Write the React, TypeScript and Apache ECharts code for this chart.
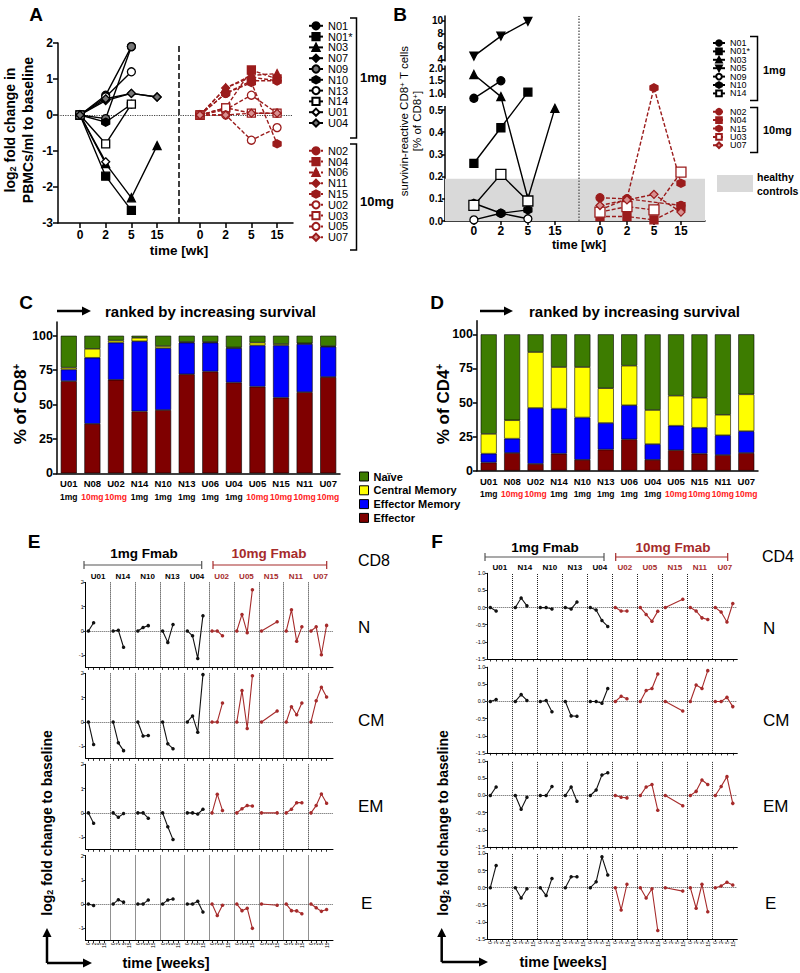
import React, { useEffect, useRef } from 'react';
import * as echarts from 'echarts';

const FONT = '"Liberation Sans", Arial, Helvetica, sans-serif';
const RED = '#9b1c1c';
const RED_EF = '#a62b2b';
const RED_DOSE = '#ff2020';

// ---------------- Panel A ----------------
const weekLabels = ['0', '2', '5', '15'];
const aIds1 = ['N01', 'N01*', 'N03', 'N07', 'N09', 'N10', 'N13', 'N14', 'U01', 'U04'];
const aVals1 = [
  [0, 0.55, 1.9, null],
  [0, -1.7, -2.65, null],
  [0, -1.35, -2.3, -0.85],
  [0, 0.4, 0.6, 0.5],
  [0, -0.1, 1.9, null],
  [0, -0.2, 0.3, null],
  [0, 0.5, 1.2, null],
  [0, -0.8, 0.3, null],
  [0, -1.3, null, null],
  [0, 0.45, 0.6, 0.5],
];
const aIds10 = ['N02', 'N04', 'N06', 'N11', 'N15', 'U02', 'U03', 'U05', 'U07'];
const aVals10 = [
  [0, 0.6, 0.95, 0.95],
  [0, 0.2, 1.25, 1.0],
  [0, 0.75, 1.1, 1.15],
  [0, 0.75, 1.05, 0.95],
  [0, 0.6, 0.9, -0.8],
  [0, 0.15, 0.55, 0.05],
  [0, 0.2, 0.05, 0.05],
  [0, 0.0, -0.7, -0.35],
  [0, 0.0, 0.05, 0.05],
];

// ---------------- Panel B ----------------
const bIds1 = ['N01', 'N01*', 'N03', 'N05', 'N09', 'N10', 'N14'];
const bVals1 = [
  [0.85, 1.5, null, null],
  [0.26, 0.42, 1.05, null],
  [1.75, 0.9, 0.1, 0.55],
  [4.5, 7.6, 9.9, null],
  [0.005, 0.035, 0.01, null],
  [0.08, 0.035, 0.05, null],
  [0.07, 0.21, 0.09, null],
];
const bIds10 = ['N02', 'N04', 'N15', 'U03', 'U07'];
const bVals10 = [
  [0.105, 0.1, null, 0.07],
  [0.02, 0.02, 0.005, 0.065],
  [0.05, 0.1, 1.22, 0.17],
  [0.04, 0.065, 0.05, 0.22],
  [0.07, 0.095, 0.12, 0.04],
];
const bTicks = [0, 0.1, 0.2, 0.3, 0.4, 0.5, 1.0, 1.5, 2.0, 4, 6, 8, 10];
const bTickLabels = ['0.0', '0.1', '0.2', '0.3', '0.4', '0.5', '1.0', '1.5', '2.0', '4', '6', '8', '10'];
const healthyMax = 0.19;

// ---------------- Panels C / D ----------------
const cdCats = ['U01', 'N08', 'U02', 'N14', 'N10', 'N13', 'U06', 'U04', 'U05', 'N15', 'N11', 'U07'];
const cdDose = ['1mg', '10mg', '10mg', '1mg', '1mg', '1mg', '1mg', '1mg', '10mg', '10mg', '10mg', '10mg'];
const cEffector = [67, 36, 68, 45, 46, 72, 74, 66, 63, 55, 59, 70];
const cEffMem = [8.5, 48, 27, 51, 45, 23, 21, 25, 30, 38, 35, 22];
const cCentral = [1.3, 6.5, 1.5, 2.5, 1.5, 0.5, 0.5, 0.5, 2, 1, 0.5, 0.5];
const cNaive = [23.2, 9.5, 3.5, 1.5, 7.5, 4.5, 4.5, 8.5, 5, 6, 5.5, 7.5];
const dEffector = [6, 13, 5, 12.5, 8, 15.5, 23, 8, 15, 12.5, 11.5, 13];
const dEffMem = [6.5, 10.5, 41, 33, 31, 19.5, 25, 11.5, 18, 19, 14.5, 16];
const dCentral = [14.5, 13.5, 41, 30.5, 37, 25.5, 29, 25, 22, 22, 15, 27];
const dNaive = [73, 63, 13, 24, 24, 39.5, 23, 55.5, 45, 46.5, 59, 44];
const subsetNames = ['Naïve', 'Central Memory', 'Effector Memory', 'Effector'];
const subsetColors = ['#3d7c00', '#ffff00', '#0000ff', '#7f0000'];

// ---------------- Panels E / F ----------------
const efIds = ['U01', 'N14', 'N10', 'N13', 'U04', 'U02', 'U05', 'N15', 'N11', 'U07'];
const efRowNames = ['N', 'CM', 'EM', 'E'];
const eN = [[0, 0.34], [0, 0.03, -0.67], [0, 0.14, 0.22], [0, -0.47, 0.27], [0, -0.2, -1.13, 0.63],
  [0, 0, -0.2], [0, 0.68, -0.07, 1.7], [0, null, null, 0.38], [0, 0.87, -0.42, 0.17], [0, 0.17, -0.98, 0.23]];
const eCM = [[0, -0.93], [0, -0.86, -1.18], [0, -0.58, -0.56], [0, -0.9, -1.1], [0, 0.25, -0.42, 1.95],
  [0, 0, 0.78], [0, 1.3, -0.27, 1.9], [0, null, null, 0.45], [0, 0.63, 0.3, 0.78], [0, 0.87, 1.43, 1.03]];
const eEM = [[0, -0.43], [0, -0.18, -0.03], [0, 0, -0.22], [0, -0.57, -1.1], [0, 0, -0.05, 0.15],
  [0, 0.77, 0.1], [0, 0.17, 0.3, 0.28], [0, null, null, 0], [0, 0.15, 0.42, 0.42], [0, 0.3, 0.78, 0.4]];
const eE = [[0, -0.06], [0, 0.18, 0.08], [0, 0, 0.17], [0, 0.17, 0.21], [0, 0, 0.12, -0.33],
  [0, -0.47, -0.05], [0, -0.27, -0.17, -1.0], [0, null, null, -0.05], [0, -0.27, -0.28, -0.4], [0, -0.15, -0.3, -0.22]];
const fN = [[0, -0.1], [0, 0.28, 0.05], [0, 0, -0.04], [0, -0.04, 0.16], [0, -0.07, -0.38, -0.55],
  [0, -0.1, -0.1], [0, -0.2, -0.4, -0.11], [0, null, null, 0.24], [0, -0.1, -0.3, -0.35], [0, -0.13, -0.42, 0.12]];
const fCM = [[0, 0.06], [0, 0.2, 0.03], [0, 0.03, -0.3], [0, -0.42, -0.43], [0, 0, -0.05, 0.38],
  [0, 0.15, 0.08], [0, 0.32, 0.38, 0.8], [0, null, null, -0.28], [0, 0.48, 0.38, 0.9], [0, 0, 0.12, -0.15]];
const fEM = [[0, 0.25], [0, -0.4, -0.05], [0, 0, 0.26], [0, 0.25, -0.17], [0, 0.16, 0.6, 0.66],
  [0, -0.05, -0.07], [0, 0.25, 0.32, -0.43], [0, null, null, -0.3], [0, 0.12, 0.45, 0.32], [0, 0.26, 0.55, -0.23]];
const fE = [[0, 0.65], [0, -0.3, -0.03], [0, -0.23, 0.27], [0, 0.32, 0.32], [0, 0.17, 0.9, 0.37],
  [0, -0.65, 0.1], [0, -0.3, -0.03, -1.25], [0, null, null, -0.1], [0, -0.6, 0.1, -0.7], [0, 0.05, 0.16, 0.08]];
const eTickVals = [-1, 0, 1, 2];
const fTickVals = [-1.5, -1, -0.5, 0, 0.5, 1];

// ---------------- layout / style helpers ----------------
const posG1 = [0, 1, 2, 3];
const posG2 = [4.67, 5.67, 6.67, 7.67];
const posAll = [...posG1, ...posG2];
const weekLabel = (v: number) => {
  const i = posAll.findIndex((p) => Math.abs(p - v) < 1e-3);
  return i < 0 ? '' : weekLabels[i % 4];
};

const HEX = 'path://M5,0L9.33,2.5L9.33,7.5L5,10L0.67,7.5L0.67,2.5Z';
const DOWN = 'path://M0,0L10,0L5,9Z';
const symA1 = [['circle', 's'], ['rect', 's'], ['triangle', 's'], ['diamond', 's'], ['circle', 'h'], [HEX, 's'], ['circle', 'o'], ['rect', 'o'], ['diamond', 'o'], ['diamond', 'h']];
const symA10 = [['circle', 's'], ['rect', 's'], ['triangle', 's'], ['diamond', 's'], [HEX, 's'], ['circle', 'o'], ['rect', 'o'], ['circle', 'o'], ['diamond', 'h']];
const symB1 = [['circle', 's'], ['rect', 's'], ['triangle', 's'], [DOWN, 's'], ['circle', 'o'], [HEX, 's'], ['rect', 'o']];
const symB10 = [['circle', 's'], ['rect', 's'], [HEX, 's'], ['rect', 'o'], ['diamond', 'h']];

// B broken axis: piecewise scale of values to display units
const Tb = (v: number) => {
  if (v <= 0.5) return v * 222;
  if (v <= 1.0) return 111 + (v - 0.5) * 33.4;
  if (v <= 2.0) return 127.7 + (v - 1) * 25;
  if (v < 4) return 152.7 + (v - 2) * 4.5;
  return 161.7 + (v - 4) * 6.43;
};

function lineSer(name: string, vals: (number | null)[], pos: number[], sym: string[], color: string, dashed: boolean, ai: number, yf: (v: number) => number, size: number) {
  const fill = sym[1] === 's' ? color : sym[1] === 'h' ? (color === '#000' ? '#777' : '#d89090') : '#fff';
  return {
    type: 'line', name, xAxisIndex: ai, yAxisIndex: ai, silent: true, z: 5,
    data: vals.map((v, j) => (v == null ? null : [pos[j], yf(v)])).filter((p) => p),
    symbol: sym[0], symbolSize: size,
    lineStyle: { color, width: 1.4, type: dashed ? [4, 2] : 'solid' },
    itemStyle: { color: fill, borderColor: color, borderWidth: 1.3 },
  };
}

function txt(x: number, y: number, t: string, o: any = {}) {
  return {
    type: 'text', x, y, rotation: o.rot || 0, z: 100, silent: true,
    style: {
      text: t, fill: o.color || '#000', fontSize: o.size || 12, fontWeight: o.bold ? 'bold' : 'normal',
      fontFamily: FONT, align: o.align || 'center', verticalAlign: 'middle', rich: o.rich,
    },
  };
}
function pl(points: number[][], color = '#000', w = 1.5) {
  return { type: 'polyline', z: 100, silent: true, shape: { points }, style: { stroke: color, lineWidth: w, fill: null } };
}
function arrowH(x1: number, x2: number, y: number, w = 2.5) {
  return [pl([[x1, y], [x2 - 7, y]], '#000', w),
    { type: 'polygon', z: 100, silent: true, shape: { points: [[x2, y], [x2 - 9, y - 4.5], [x2 - 9, y + 4.5]] }, style: { fill: '#000' } }];
}
function arrowV(x: number, y1: number, y2: number, w = 2.5) {
  return [pl([[x, y1], [x, y2 + 7]], '#000', w),
    { type: 'polygon', z: 100, silent: true, shape: { points: [[x, y2], [x - 4.5, y2 + 9], [x + 4.5, y2 + 9]] }, style: { fill: '#000' } }];
}

const sub = { s: { fontSize: 9, fontWeight: 'bold', fontFamily: FONT, verticalAlign: 'bottom' } };
const supN = { p: { fontSize: 8, fontFamily: FONT, verticalAlign: 'top' } };
const supB = { p: { fontSize: 10, fontWeight: 'bold', fontFamily: FONT, verticalAlign: 'top' } };

const axisBlack = { color: '#000', width: 1.5 };

export default function App() {
  const ref = useRef<HTMLDivElement>(null);
  useEffect(() => {
    if (!ref.current) return;
    const chart = echarts.init(ref.current, undefined, { renderer: 'svg' });

    const grids: any[] = [];
    const xAxes: any[] = [];
    const yAxes: any[] = [];
    const series: any[] = [];

    // ---- A ----
    grids.push({ left: 58, top: 43, width: 235, height: 180 });
    xAxes.push({
      gridIndex: 0, type: 'value', min: -0.856, max: 8.29,
      axisLine: { onZero: false, lineStyle: axisBlack },
      axisTick: { customValues: posAll, length: 5, lineStyle: axisBlack },
      axisLabel: { customValues: posAll, formatter: weekLabel, fontSize: 12, fontWeight: 'bold', color: '#000', margin: 6 },
      splitLine: { show: false },
    });
    yAxes.push({
      gridIndex: 0, type: 'value', min: -3, max: 2, interval: 1,
      axisLine: { show: true, onZero: false, lineStyle: axisBlack },
      axisTick: { show: true, length: 5, lineStyle: axisBlack },
      axisLabel: { fontSize: 12, fontWeight: 'bold', color: '#000', margin: 5 },
      splitLine: { show: false },
    });
    aIds1.forEach((id, i) => series.push(lineSer(id, aVals1[i], posG1, symA1[i], '#000', false, 0, (v) => v, 8)));
    aIds10.forEach((id, i) => series.push(lineSer(id, aVals10[i], posG2, symA10[i], RED, true, 0, (v) => v, 8)));
    series.push({
      type: 'line', xAxisIndex: 0, yAxisIndex: 0, data: [], silent: true, z: 1,
      markLine: {
        silent: true, symbol: ['none', 'none'], label: { show: false },
        data: [
          { yAxis: 0, lineStyle: { type: 'dotted', color: '#444', width: 1.2 } },
          { xAxis: 3.85, lineStyle: { type: [6, 3], color: '#000', width: 1.5 } },
        ],
      },
    });

    // ---- B ----
    grids.push({ left: 445, top: 16, width: 260, height: 205 });
    xAxes.push({
      gridIndex: 1, type: 'value', min: -1.07, max: 8.56,
      axisLine: { onZero: false, lineStyle: axisBlack },
      axisTick: { customValues: posAll, length: 4, lineStyle: axisBlack },
      axisLabel: { customValues: posAll, formatter: weekLabel, fontSize: 12, fontWeight: 'bold', color: '#000', margin: 4 },
      splitLine: { show: false },
    });
    const bTickU = bTicks.map(Tb);
    yAxes.push({
      gridIndex: 1, type: 'value', min: 0, max: 205,
      axisLine: { show: true, onZero: false, lineStyle: axisBlack },
      axisTick: { show: true, customValues: bTickU, length: 3, lineStyle: axisBlack },
      axisLabel: {
        customValues: bTickU, fontSize: 10, fontWeight: 'bold', color: '#000', margin: 2,
        formatter: (u: number) => {
          const i = bTickU.findIndex((t) => Math.abs(t - u) < 1e-3);
          return i < 0 ? '' : bTickLabels[i];
        },
      },
      splitLine: { show: false },
    });
    series.push({
      type: 'line', xAxisIndex: 1, yAxisIndex: 1, data: [], silent: true, z: 1,
      markArea: { silent: true, itemStyle: { color: '#d9d9d9' }, data: [[{ yAxis: 0 }, { yAxis: Tb(healthyMax) }]] },
      markLine: {
        silent: true, symbol: ['none', 'none'], label: { show: false },
        data: [{ xAxis: 3.89, lineStyle: { type: 'dotted', color: '#666', width: 1.5 } }],
      },
    });
    bIds1.forEach((id, i) => series.push(lineSer('B:' + id, bVals1[i], posG1, symB1[i], '#000', false, 1, Tb, id === 'N14' ? 10 : 8)));
    bIds10.forEach((id, i) => series.push(lineSer('B:' + id, bVals10[i], posG2, symB10[i], RED, true, 1, Tb, id === 'U03' ? 10 : 8)));

    // ---- C / D ----
    const cdGrid = [
      { left: 57, top: 322, width: 283, height: 151.3 },
      { left: 477, top: 320.7, width: 281, height: 150 },
    ];
    const cdData = [
      [cNaive, cCentral, cEffMem, cEffector],
      [dNaive, dCentral, dEffMem, dEffector],
    ];
    cdGrid.forEach((g, k) => {
      const gi = 2 + k;
      grids.push(g);
      xAxes.push({
        gridIndex: gi, type: 'category', data: cdCats,
        axisLine: { onZero: false, lineStyle: axisBlack },
        axisTick: { alignWithLabel: true, length: 3, lineStyle: axisBlack },
        axisLabel: {
          interval: 0, margin: 4, color: '#000',
          formatter: (v: string, i: number) => `{a|${v}}\n{${cdDose[i] === '10mg' ? 'r' : 'b'}|${cdDose[i]}}`,
          rich: {
            a: { fontSize: 9.5, fontWeight: 'bold', color: '#000', lineHeight: 13, fontFamily: FONT },
            b: { fontSize: 8.5, fontWeight: 'bold', color: '#000', lineHeight: 13, fontFamily: FONT },
            r: { fontSize: 8.5, fontWeight: 'bold', color: RED_DOSE, lineHeight: 13, fontFamily: FONT },
          },
        },
      });
      yAxes.push({
        gridIndex: gi, type: 'value', min: 0, max: 110,
        axisLine: { show: true, onZero: false, lineStyle: axisBlack },
        axisTick: { show: true, customValues: [0, 25, 50, 75, 100], length: 4, lineStyle: axisBlack },
        axisLabel: { customValues: [0, 25, 50, 75, 100], fontSize: 12.5, fontWeight: 'bold', color: '#000', margin: 4 },
        splitLine: { show: false },
      });
      [3, 2, 1, 0].forEach((s) => {
        series.push({
          type: 'bar', name: subsetNames[s], stack: 'cd' + k, xAxisIndex: gi, yAxisIndex: gi, silent: true,
          data: cdData[k][s], barWidth: 16,
          itemStyle: { color: subsetColors[s], borderColor: '#000', borderWidth: 0.6 },
        });
      });
    });

    // ---- E / F ----
    const panels = [
      { rows: [eN, eCM, eEM, eE], W: 4.75, left: 85.7, width: 247.3, tops: [582.4, 673.4, 764.3, 855.5], h: 85, ymin: -1.5, ymax: 2, ticks: eTickVals, fmt: (v: number) => String(v), key: 'E' },
      { rows: [fN, fCM, fEM, fE], W: 4.3, left: 487.3, width: 250, tops: [573.3, 667.2, 761.2, 853.4], h: 85.7, ymin: -1.5, ymax: 1, ticks: fTickVals, fmt: (v: number) => v.toFixed(1), key: 'F' },
    ];
    const OFF = 0.52;
    const topAxes: any[] = [];
    panels.forEach((P, pk) => {
      const tickPos: number[] = [];
      const centers: number[] = [];
      const seps: number[] = [];
      efIds.forEach((_, c) => {
        for (let t = 0; t < 4; t++) tickPos.push(c * P.W + t);
        centers.push(c * P.W + P.W / 2 - OFF);
        if (c > 0) seps.push(c * P.W - OFF);
      });
      P.rows.forEach((rowVals, r) => {
        const gi = 4 + pk * 4 + r;
        grids.push({ left: P.left, top: P.tops[r], width: P.width, height: P.h });
        xAxes.push({
          gridIndex: gi, type: 'value', min: -OFF, max: 10 * P.W - OFF,
          axisLine: { onZero: false, lineStyle: { color: '#000', width: 1 } },
          axisTick: { customValues: tickPos, length: 2.5, lineStyle: { color: '#000', width: 0.8 } },
          axisLabel: r === 3
            ? { customValues: tickPos, rotate: 90, fontSize: 5, color: '#000', margin: 2, formatter: (v: number) => {
                const i = tickPos.findIndex((p) => Math.abs(p - v) < 1e-3);
                return i < 0 ? '' : weekLabels[i % 4];
              } }
            : { show: false },
          splitLine: { show: false },
        });
        yAxes.push({
          gridIndex: gi, type: 'value', min: P.ymin, max: P.ymax,
          axisLine: { show: true, onZero: false, lineStyle: { color: '#000', width: 1 } },
          axisTick: { show: true, customValues: P.ticks, length: 2.5, lineStyle: { color: '#000', width: 0.8 } },
          axisLabel: { customValues: P.ticks, fontSize: 5.5, color: '#000', margin: 2, formatter: P.fmt },
          splitLine: { show: false },
        });
        series.push({
          type: 'line', xAxisIndex: gi, yAxisIndex: gi, data: [], silent: true, z: 1,
          markLine: {
            silent: true, symbol: ['none', 'none'], label: { show: false },
            lineStyle: { type: 'dotted', color: '#222', width: 1 },
            data: [...seps.map((x) => ({ xAxis: x })), { yAxis: 0, lineStyle: { type: 'dotted', color: '#555', width: 1 } }],
          },
        });
        rowVals.forEach((vals: (number | null)[], c: number) => {
          const color = c < 5 ? '#111' : RED_EF;
          series.push({
            type: 'line', name: `${P.key}-${efRowNames[r]}-${efIds[c]}`, xAxisIndex: gi, yAxisIndex: gi, silent: true, z: 5,
            data: vals.map((v, t) => (v == null ? null : [c * P.W + t, v])).filter((p) => p),
            symbol: 'circle', symbolSize: 3.5,
            lineStyle: { color, width: 1.1 }, itemStyle: { color },
          });
        });
      });
      topAxes.push({
        gridIndex: 4 + pk * 4, type: 'value', position: 'top', min: -OFF, max: 10 * P.W - OFF,
        axisLine: { show: false }, axisTick: { show: false }, splitLine: { show: false },
        axisLabel: {
          customValues: centers, margin: 2,
          formatter: (v: number) => {
            const c = Math.round((v - (P.W / 2 - OFF)) / P.W);
            return `{${c < 5 ? 'k' : 'r'}|${efIds[c]}}`;
          },
          rich: {
            k: { fontSize: 8, fontWeight: 'bold', color: '#000', fontFamily: FONT },
            r: { fontSize: 8, fontWeight: 'bold', color: RED_EF, fontFamily: FONT },
          },
        },
      });
    });
    xAxes.push(...topAxes);

    // ---- graphics ----
    const g: any[] = [];
    [['A', 36, 14], ['B', 400, 14], ['C', 26, 302], ['D', 437, 302], ['E', 34, 541], ['F', 437, 541]].forEach(([t, x, y]) =>
      g.push(txt(x as number, y as number, t as string, { size: 19, bold: true })));
    // A
    g.push(txt(10, 130, 'log{s|2} fold change in', { size: 14, bold: true, rot: Math.PI / 2, rich: sub }));
    g.push(txt(28, 130, 'PBMCs/ml to baseline', { size: 14, bold: true, rot: Math.PI / 2 }));
    g.push(txt(179, 250, 'time [wk]', { size: 13.5, bold: true }));
    g.push(pl([[350, 18], [356.5, 18], [356.5, 138], [350, 138]]));
    g.push(pl([[350, 144], [356.5, 144], [356.5, 250], [350, 250]]));
    g.push(txt(360, 77, '1mg', { size: 13, bold: true, align: 'left' }));
    g.push(txt(360, 201, '10mg', { size: 13, bold: true, align: 'left' }));
    // B
    g.push(txt(404, 121, 'survivin-reactive CD8{p|+} T cells', { size: 11.5, rot: Math.PI / 2, rich: supN }));
    g.push(txt(417, 121, '[% of CD8{p|+}]', { size: 11.5, rot: Math.PI / 2, rich: supN }));
    g.push(txt(579, 245, 'time [wk]', { size: 12.5, bold: true }));
    g.push(pl([[750, 36.5], [757.5, 36.5], [757.5, 100.5], [750, 100.5]]));
    g.push(pl([[750, 107.5], [757.5, 107.5], [757.5, 152.5], [750, 152.5]]));
    g.push(txt(763, 70, '1mg', { size: 11, bold: true, align: 'left' }));
    g.push(txt(763, 130, '10mg', { size: 11, bold: true, align: 'left' }));
    g.push({ type: 'rect', z: 100, silent: true, shape: { x: 717, y: 175, width: 36, height: 17 }, style: { fill: '#d9d9d9' } });
    g.push(txt(757, 177, 'healthy', { size: 10.5, bold: true, align: 'left' }));
    g.push(txt(757, 191, 'controls', { size: 10.5, bold: true, align: 'left' }));
    g.push({ type: 'rect', z: 100, silent: true, shape: { x: 443, y: 61.5, width: 4.5, height: 4 }, style: { fill: '#fff' } });
    g.push({ type: 'rect', z: 100, silent: true, shape: { x: 443, y: 98, width: 4.5, height: 8 }, style: { fill: '#fff' } });
    // C / D
    g.push(...arrowH(57, 91, 311));
    g.push(txt(105, 311, 'ranked by increasing survival', { size: 15, bold: true, align: 'left' }));
    g.push(txt(20, 404, '% of CD8{p|+}', { size: 17, bold: true, rot: Math.PI / 2, rich: supB }));
    g.push(...arrowH(480, 513, 311));
    g.push(txt(529, 311, 'ranked by increasing survival', { size: 15, bold: true, align: 'left' }));
    g.push(txt(443, 404, '% of CD4{p|+}', { size: 17, bold: true, rot: Math.PI / 2, rich: supB }));
    // E
    g.push(txt(144, 553, '1mg Fmab', { size: 13.5, bold: true }));
    g.push(pl([[84, 561], [84, 569]], '#555', 1.2), pl([[84, 565], [201.7, 565]], '#555', 1.2), pl([[201.7, 561], [201.7, 569]], '#555', 1.2));
    g.push(txt(269, 553, '10mg Fmab', { size: 13.5, bold: true, color: RED_EF }));
    g.push(pl([[213, 561], [213, 569]], RED_EF, 1.2), pl([[213, 565], [326.7, 565]], RED_EF, 1.2), pl([[326.7, 561], [326.7, 569]], RED_EF, 1.2));
    g.push(txt(358, 560, 'CD8', { size: 16, align: 'left' }));
    [[358, 627, 'N'], [358, 720, 'CM'], [358, 806, 'EM'], [361, 903, 'E']].forEach(([x, y, t]) =>
      g.push(txt(x as number, y as number, t as string, { size: 17, align: 'left' })));
    g.push(txt(47, 823, 'log{s|2} fold change to baseline', { size: 14, bold: true, rot: Math.PI / 2, rich: sub }));
    g.push(...arrowV(47, 963, 928), ...arrowH(47, 92, 963));
    g.push(txt(166, 963, 'time [weeks]', { size: 14.5, bold: true }));
    // F
    g.push(txt(545, 547, '1mg Fmab', { size: 13.5, bold: true }));
    g.push(pl([[485, 553], [485, 561]], '#555', 1.2), pl([[485, 557], [604, 557]], '#555', 1.2), pl([[604, 553], [604, 561]], '#555', 1.2));
    g.push(txt(673, 547, '10mg Fmab', { size: 13.5, bold: true, color: RED_EF }));
    g.push(pl([[615.7, 553], [615.7, 561]], RED_EF, 1.2), pl([[615.7, 557], [727.7, 557]], RED_EF, 1.2), pl([[727.7, 553], [727.7, 561]], RED_EF, 1.2));
    g.push(txt(762, 556, 'CD4', { size: 16, align: 'left' }));
    [[763, 628, 'N'], [763, 720, 'CM'], [763, 806, 'EM'], [765, 903, 'E']].forEach(([x, y, t]) =>
      g.push(txt(x as number, y as number, t as string, { size: 17, align: 'left' })));
    g.push(txt(443, 823, 'log{s|2} fold change to baseline', { size: 14, bold: true, rot: Math.PI / 2, rich: sub }));
    g.push(...arrowV(441.7, 962, 928), ...arrowH(441.7, 488, 962));
    g.push(txt(563, 962, 'time [weeks]', { size: 14.5, bold: true }));

    const legA = (ids: string[], top: number) => ({
      orient: 'vertical', left: 308, top, itemWidth: 14, itemHeight: 9, itemGap: -0.2, padding: 0,
      selectedMode: false, data: ids,
      textStyle: { fontSize: 11, lineHeight: 11, color: '#000', fontFamily: FONT },
    });
    const legB = (ids: string[], top: number) => ({
      orient: 'vertical', left: 712, top, itemWidth: 12, itemHeight: 7, itemGap: -0.6, padding: 0,
      selectedMode: false, data: ids.map((i) => 'B:' + i), formatter: (n: string) => n.slice(2),
      textStyle: { fontSize: 9, lineHeight: 9, color: '#000', fontFamily: FONT },
    });

    chart.setOption({
      animation: false,
      textStyle: { fontFamily: FONT },
      grid: grids,
      xAxis: xAxes,
      yAxis: yAxes,
      series,
      legend: [
        legA(aIds1, 20.3),
        legA(aIds10, 145.3),
        legB(bIds1, 38.5),
        legB(bIds10, 107.2),
        {
          orient: 'vertical', left: 359, top: 471, itemWidth: 9, itemHeight: 9, itemGap: 2.8, padding: 0,
          selectedMode: false, icon: 'rect', data: subsetNames,
          itemStyle: { borderColor: '#000', borderWidth: 1 },
          textStyle: { fontSize: 11, fontWeight: 'bold', lineHeight: 9.5, color: '#000', fontFamily: FONT },
        },
      ],
      graphic: { elements: g },
    });
    return () => chart.dispose();
  }, []);
  return <div ref={ref} style={{ position: 'absolute', left: 0, top: 0, width: 800, height: 973, background: '#fff' }} />;
}
